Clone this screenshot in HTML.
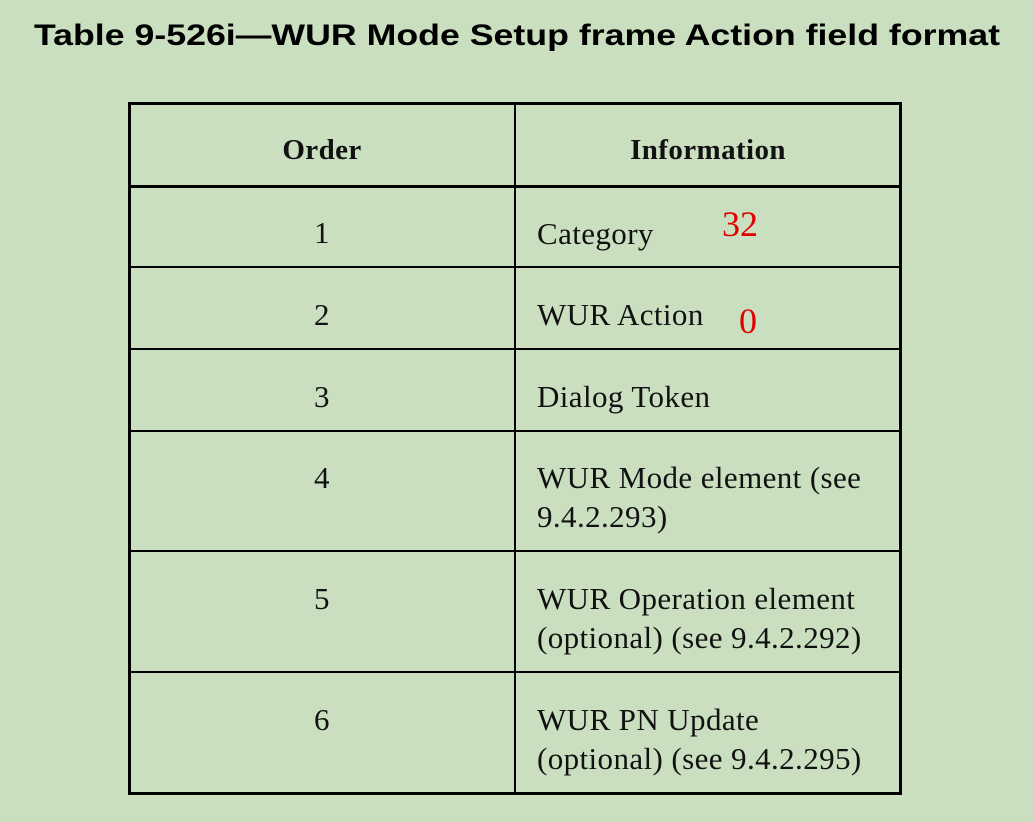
<!DOCTYPE html>
<html><head><style>
body{margin:0;width:1034px;height:822px;background:#c9dfc0;position:relative;overflow:hidden;font-family:"Liberation Serif",serif;color:#111}
.t{position:absolute;left:0;width:1034px;top:19px;text-align:center;font:bold 30px "Liberation Sans",sans-serif;color:#000;transform:scaleX(1.19);transform-origin:517px 0}
.l{position:absolute;background:#000}
.c{position:absolute;font-size:31px;line-height:39px;white-space:nowrap;letter-spacing:0.4px}
.n{width:386px;left:129px;text-align:center}
.i{left:537px}
.r{position:absolute;color:#e00000;font-size:36px}
</style></head><body>
<div class="t">Table 9-526i—WUR Mode Setup frame Action field format</div>
<div class="l" style="left:128px;top:102px;width:774px;height:3px"></div>
<div class="l" style="left:128px;top:792px;width:774px;height:3px"></div>
<div class="l" style="left:128px;top:102px;width:3px;height:693px"></div>
<div class="l" style="left:899px;top:102px;width:3px;height:693px"></div>
<div class="l" style="left:514px;top:102px;width:2px;height:693px"></div>
<div class="l" style="left:128px;top:185px;width:774px;height:3px"></div>
<div class="l" style="left:128px;top:266px;width:774px;height:2px"></div>
<div class="l" style="left:128px;top:348px;width:774px;height:2px"></div>
<div class="l" style="left:128px;top:430px;width:774px;height:2px"></div>
<div class="l" style="left:128px;top:550px;width:774px;height:2px"></div>
<div class="l" style="left:128px;top:671px;width:774px;height:2px"></div>
<div class="c n" style="top:131px;font-weight:bold;font-size:29px">Order</div>
<div class="c" style="left:516px;width:384px;text-align:center;top:131px;font-weight:bold;font-size:29px">Information</div>
<div class="c n" style="top:213px">1</div><div class="c i" style="top:214px">Category</div>
<div class="c n" style="top:295px">2</div><div class="c i" style="top:295px">WUR Action</div>
<div class="c n" style="top:377px">3</div><div class="c i" style="top:377px">Dialog Token</div>
<div class="c n" style="top:458px">4</div><div class="c i" style="top:458px">WUR Mode element (see<br>9.4.2.293)</div>
<div class="c n" style="top:579px">5</div><div class="c i" style="top:579px">WUR Operation element<br>(optional) (see 9.4.2.292)</div>
<div class="c n" style="top:700px">6</div><div class="c i" style="top:700px">WUR PN Update<br>(optional) (see 9.4.2.295)</div>
<div class="r" style="left:722px;top:203px">32</div>
<div class="r" style="left:739px;top:300px">0</div>
</body></html>
